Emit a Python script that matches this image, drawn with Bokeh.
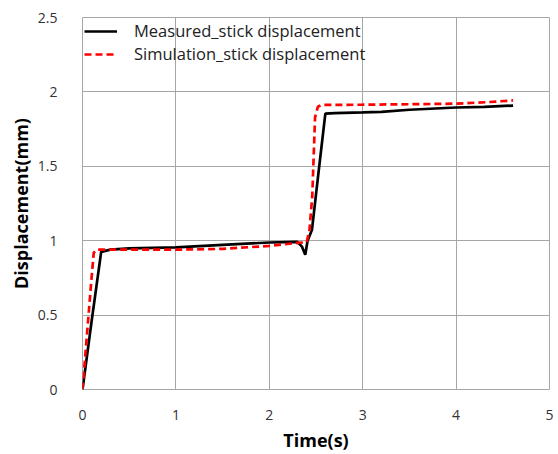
from bokeh.plotting import figure
from bokeh.models import Range1d, Legend, LegendItem, FixedTicker
from bokeh.embed import file_html
from bokeh.resources import INLINE

# Measured stick displacement
t_meas = [0, 0.1, 0.2, 0.3, 0.5, 1.0, 1.5, 2.0, 2.3, 2.35, 2.385, 2.41, 2.457, 2.52, 2.6, 2.7, 3.0, 3.2, 3.5, 4.0, 4.3, 4.61]
d_meas = [0, 0.47, 0.925, 0.94, 0.948, 0.955, 0.972, 0.988, 0.992, 0.96, 0.905, 1.0, 1.074, 1.42, 1.854, 1.858, 1.862, 1.866, 1.88, 1.895, 1.9, 1.908]

# Simulation stick displacement
t_sim = [0, 0.05, 0.093, 0.12, 0.15, 0.3, 0.6, 1.0, 1.5, 2.0, 2.3, 2.4, 2.43, 2.46, 2.49, 2.52, 2.56, 2.7, 3.0, 3.5, 4.0, 4.36, 4.61]
d_sim = [0, 0.385, 0.72, 0.918, 0.94, 0.94, 0.94, 0.94, 0.945, 0.965, 0.985, 0.99, 1.07, 1.3, 1.83, 1.9, 1.912, 1.913, 1.914, 1.917, 1.921, 1.932, 1.943]

x_ticks = [0, 1, 2, 3, 4, 5]
y_ticks = [0, 0.5, 1, 1.5, 2, 2.5]

FONT = "Open Sans"
GRID = "#A6A6A6"

p = figure(width=558, height=454, output_backend="svg", toolbar_location=None,
           x_range=Range1d(0, 5), y_range=Range1d(0, 2.5),
           min_border_left=82, min_border_right=9, min_border_top=17, min_border_bottom=63)

p.outline_line_color = GRID
p.outline_line_width = 1
p.background_fill_color = "white"
p.border_fill_color = "white"

for ax in (p.xaxis[0], p.yaxis[0]):
    ax.axis_line_color = None
    ax.major_tick_line_color = None
    ax.minor_tick_line_color = None
    ax.major_label_text_font = FONT
    ax.major_label_text_font_size = "14px"
    ax.major_label_text_color = "#333333"
    ax.axis_label_text_font = FONT
    ax.axis_label_text_font_size = "18px"
    ax.axis_label_text_font_style = "bold"
    ax.axis_label_text_color = "#000000"

p.xaxis.ticker = FixedTicker(ticks=x_ticks)
p.yaxis.ticker = FixedTicker(ticks=y_ticks)
p.xaxis.major_label_overrides = {0: "0", 1: "1", 2: "2", 3: "3", 4: "4", 5: "5"}
p.yaxis.major_label_overrides = {0: "0", 0.5: "0.5", 1: "1", 1.5: "1.5", 2: "2", 2.5: "2.5"}
p.xaxis.axis_label = "Time(s)"
p.yaxis.axis_label = "Displacement(mm)"
p.xaxis.major_label_standoff = 14
p.yaxis.major_label_standoff = 19
p.xaxis.axis_label_standoff = 5
p.yaxis.axis_label_standoff = 2

p.xgrid.grid_line_color = GRID
p.ygrid.grid_line_color = GRID
p.xgrid.ticker = FixedTicker(ticks=x_ticks)
p.ygrid.ticker = FixedTicker(ticks=y_ticks)

r1 = p.line(t_meas, d_meas, line_color="black", line_width=2.7)
r2 = p.line(t_sim, d_sim, line_color="#FF0000", line_width=2.7, line_dash="7 4")

legend = Legend(items=[LegendItem(label="Measured_stick displacement", renderers=[r1]),
                       LegendItem(label="Simulation_stick displacement", renderers=[r2])],
                location="top_left", border_line_color=None, background_fill_alpha=0,
                margin=2, padding=7, spacing=0, glyph_width=33, glyph_height=18,
                label_height=18, label_standoff=17,
                label_text_font=FONT, label_text_font_size="16.5px", label_text_color="#222222")
p.add_layout(legend)

open("out.html", "w").write(file_html(p, INLINE))
